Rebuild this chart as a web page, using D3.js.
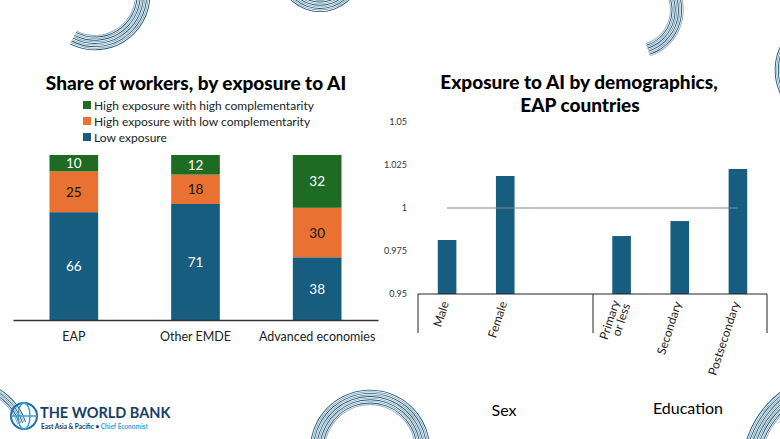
<!DOCTYPE html>
<html><head><meta charset="utf-8">
<script src="https://cdn.jsdelivr.net/npm/d3@7"></script>
<style>body{margin:0;background:#fff}svg{display:block}</style></head>
<body><svg id="c" width="780" height="439"></svg>
<script>
const regions = ["EAP", "Other EMDE", "Advanced economies"];
const lowExposure = [66, 71, 38];
const highLowComp = [25, 18, 30];
const highHighComp = [10, 12, 32];
const seriesNames = ["High exposure with high complementarity", "High exposure with low complementarity", "Low exposure"];
const demoCats = ["Male", "Female", "", "Primary or less", "Secondary", "Postsecondary"];
const demoVals = [0.9814, 1.0186, null, 0.9837, 0.9924, 1.0227];
const yTicks = [0.95, 0.975, 1, 1.025, 1.05];

const svg = d3.select("#c");
const F = "Lato, 'Open Sans', sans-serif";
const blue = "#175d80", orange = "#e97132", green = "#1e6b24";

function arcs(cx, cy, r0, n, a0, a1) {
  for (let i = 0; i < n; i++) {
    svg.append("path").attr("d", d3.arc()({innerRadius: r0 + i * 1.6, outerRadius: r0 + i * 1.6 + 0.9, startAngle: a0, endAngle: a1}))
      .attr("transform", `translate(${cx},${cy})`).attr("fill", "#1a5578").attr("opacity", 0.5 + 0.5 * (i % 2));
  }
}
arcs(95, -5, 40, 10, Math.PI * 0.5, Math.PI * 1.15);
arcs(320, -30, 30, 8, Math.PI * 0.55, Math.PI * 1.45);
arcs(635, 10, 35, 9, -Math.PI * 0.2, Math.PI * 0.9);
arcs(830, 70, 40, 10, Math.PI * 1.2, Math.PI * 1.9);
arcs(370, 450, 45, 10, -Math.PI * 0.45, Math.PI * 0.45);
arcs(840, 470, 80, 12, -Math.PI * 0.5, -Math.PI * 0.05);
arcs(-30, 440, 50, 6, Math.PI * 0.05, Math.PI * 0.4);

// Left chart
svg.append("text").attr("x", 196).attr("y", 90).attr("text-anchor", "middle").attr("font-family", F)
  .attr("font-weight", 900).attr("font-size", 19).text("Share of workers, by exposure to AI");
const legCols = [green, orange, blue];
seriesNames.forEach((s, i) => {
  svg.append("rect").attr("x", 83).attr("y", 101 + i * 16).attr("width", 8).attr("height", 8).attr("fill", legCols[i]);
  svg.append("text").attr("x", 94).attr("y", 109.5 + i * 16).attr("font-family", F).attr("font-size", 12).attr("fill", "#222").text(s);
});
const xL = d3.scaleBand().domain(regions).range([13, 378]).paddingInner(0.6).paddingOuter(0.3);
const yL = d3.scaleLinear().domain([0, 100]).range([320, 155]);
const stackData = regions.map((r, i) => {
  const tot = lowExposure[i] + highLowComp[i] + highHighComp[i];
  return {r, vals: [lowExposure[i], highLowComp[i], highHighComp[i]], tot};
});
const segCols = [blue, orange, green];
const txtCols = ["#fff", "#111", "#fff"];
stackData.forEach(d => {
  let acc = 0;
  d.vals.forEach((v, k) => {
    const y0 = yL(acc / d.tot * 100), y1 = yL((acc + v) / d.tot * 100);
    svg.append("rect").attr("x", xL(d.r)).attr("width", xL.bandwidth()).attr("y", y1).attr("height", y0 - y1).attr("fill", segCols[k]);
    svg.append("text").attr("x", xL(d.r) + xL.bandwidth() / 2).attr("y", (y0 + y1) / 2 + 5).attr("text-anchor", "middle")
      .attr("font-family", F).attr("font-size", 13.5).attr("fill", txtCols[k]).text(v);
    acc += v;
  });
});
const axL = svg.append("g").attr("transform", "translate(0,320)").call(d3.axisBottom(xL).tickSize(0).tickPadding(12));
axL.select(".domain").attr("stroke", "#333").attr("stroke-width", 1.5);
axL.selectAll("text").attr("font-family", F).attr("font-size", 12.5).attr("fill", "#222");

// Right chart
svg.append("text").attr("x", 579).attr("y", 89).attr("text-anchor", "middle").attr("font-family", F)
  .attr("font-weight", 900).attr("font-size", 19).text("Exposure to AI by demographics,");
svg.append("text").attr("x", 580).attr("y", 112).attr("text-anchor", "middle").attr("font-family", F)
  .attr("font-weight", 900).attr("font-size", 19).text("EAP countries");
const xR = d3.scaleBand().domain(demoCats).range([418, 767]).paddingInner(0.68).paddingOuter(0.34);
const yR = d3.scaleLinear().domain([0.95, 1.05]).range([294, 122]);
const ayR = svg.append("g").attr("transform", "translate(410,0)")
  .call(d3.axisLeft(yR).tickValues(yTicks).tickSize(0).tickFormat(d => String(+d.toFixed(3))));
ayR.select(".domain").remove();
ayR.selectAll("text").attr("font-family", F).attr("font-size", 9).attr("fill", "#333");
demoCats.forEach((c, i) => {
  if (demoVals[i] == null) return;
  svg.append("rect").attr("x", xR(c)).attr("width", xR.bandwidth()).attr("y", yR(demoVals[i]))
    .attr("height", yR(0.95) - yR(demoVals[i])).attr("fill", blue);
});
svg.append("line").attr("x1", xR("Male") + xR.bandwidth() / 2).attr("x2", xR("Postsecondary") + xR.bandwidth() / 2)
  .attr("y1", yR(1)).attr("y2", yR(1)).attr("stroke", "#888").attr("stroke-width", 1.2);
svg.append("line").attr("x1", 418).attr("x2", 767).attr("y1", yR(0.95)).attr("y2", yR(0.95)).attr("stroke", "#222");
[418, 593, 767].forEach(x => svg.append("line").attr("x1", x).attr("x2", x).attr("y1", 294).attr("y2", 333).attr("stroke", "#222"));
demoCats.forEach(c => {
  if (!c) return;
  const cx = xR(c) + xR.bandwidth() / 2;
  const g = svg.append("text").attr("transform", `translate(${cx + 2},303) rotate(-72)`).attr("text-anchor", "end")
    .attr("font-family", F).attr("font-size", 12).attr("fill", "#222");
  if (c === "Primary or less") {
    g.append("tspan").attr("x", 0).attr("dy", -4).text("Primary");
    g.append("tspan").attr("x", 0).attr("dy", 11).text("or less");
  } else g.text(c);
});
svg.append("text").attr("x", 504).attr("y", 416).attr("text-anchor", "middle").attr("font-family", F).attr("font-size", 16).text("Sex");
svg.append("text").attr("x", 688).attr("y", 414).attr("text-anchor", "middle").attr("font-family", F).attr("font-size", 16).text("Education");

const lg = svg.append("g").attr("transform", "translate(24,416)");
lg.append("circle").attr("r", 13).attr("fill", "none").attr("stroke", "#1f6fb2").attr("stroke-width", 2);
lg.append("ellipse").attr("rx", 6).attr("ry", 13).attr("fill", "none").attr("stroke", "#3aa0d8").attr("stroke-width", 1.5);
lg.append("line").attr("x1", -13).attr("x2", 13).attr("stroke", "#3aa0d8").attr("stroke-width", 1.5);
svg.append("text").attr("x", 40).attr("y", 418).attr("font-family", F).attr("font-weight", "bold").attr("font-size", 14.5).attr("fill", "#173e6b").text("THE WORLD BANK");
const sub = svg.append("text").attr("x", 41).attr("y", 429).attr("font-family", F).attr("font-weight", "bold").attr("font-size", 6.5);
sub.append("tspan").attr("fill", "#173e6b").text("East Asia & Pacific • ");
sub.append("tspan").attr("fill", "#3aa0d8").text("Chief Economist");
</script></body></html>
